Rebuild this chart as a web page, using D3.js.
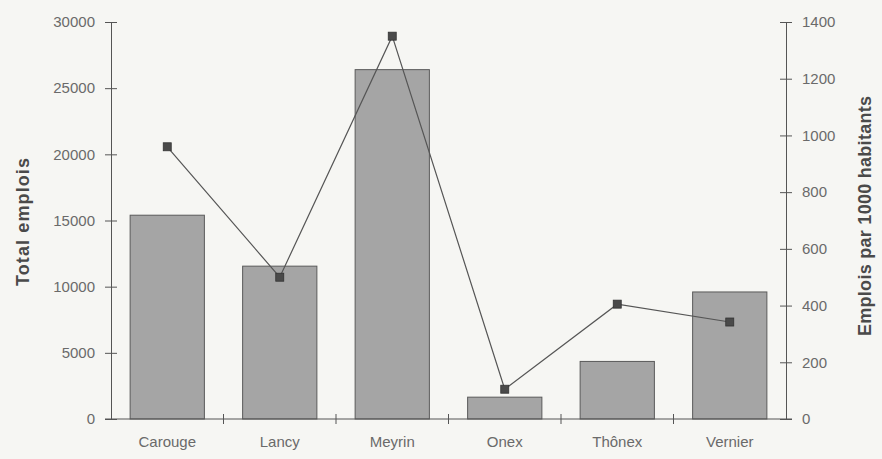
<!DOCTYPE html>
<html>
<head>
<meta charset="utf-8">
<script src="https://cdn.jsdelivr.net/npm/d3@7"></script>
<style>
  body { margin: 0; background: #f6f6f3; }
  svg { display: block; }
</style>
</head>
<body>
<div id="chart"></div>
<script>
// data
var communes = ["Carouge", "Lancy", "Meyrin", "Onex", "Thônex", "Vernier"];
var totalEmplois = [15400, 11550, 26400, 1650, 4350, 9600];
var emploisPar1000 = [960, 500, 1350, 105, 405, 342];
var leftTicks = [0, 5000, 10000, 15000, 20000, 25000, 30000];
var rightTicks = [0, 200, 400, 600, 800, 1000, 1200, 1400];

var W = 882, H = 459;
var margin = {top: 22, right: 96, bottom: 40, left: 111};
var width = W - margin.left - margin.right,
    height = H - margin.top - margin.bottom;

var svg = d3.select("#chart").append("svg")
    .attr("width", W).attr("height", H);

svg.append("rect").attr("width", W).attr("height", H).attr("fill", "#f6f6f3");

var g = svg.append("g")
    .attr("transform", "translate(" + margin.left + "," + margin.top + ")");

var x = d3.scaleBand().domain(communes).range([0, width]).paddingInner(0.34).paddingOuter(0.17);
var xTicks = d3.scaleLinear().domain([0, communes.length]).range([0, width]);
var yL = d3.scaleLinear().domain([0, 30000]).range([height, 0]);
var yR = d3.scaleLinear().domain([0, 1400]).range([height, 0]);

var axisColor = "#555";
var textColor = "#6a6a6a";
var tickFont = "'Liberation Sans Narrow', 'Liberation Sans', Arial, sans-serif";
var titleFont = "'Liberation Sans Narrow', 'Liberation Sans', Arial, sans-serif";

// bars
g.selectAll("rect.bar")
  .data(totalEmplois)
  .enter().append("rect")
    .attr("class", "bar")
    .attr("x", function(d, i) { return x(communes[i]); })
    .attr("y", function(d) { return yL(d); })
    .attr("width", x.bandwidth())
    .attr("height", function(d) { return height - yL(d); })
    .attr("fill", "#a5a5a5")
    .attr("stroke", "#5a5a5a")
    .attr("stroke-width", 1);

// line
var line = d3.line()
    .x(function(d, i) { return x(communes[i]) + x.bandwidth() / 2; })
    .y(function(d) { return yR(d); });

g.append("path")
    .datum(emploisPar1000)
    .attr("fill", "none")
    .attr("stroke", "#555")
    .attr("stroke-width", 1.2)
    .attr("d", line);

g.selectAll("rect.marker")
  .data(emploisPar1000)
  .enter().append("rect")
    .attr("class", "marker")
    .attr("x", function(d, i) { return x(communes[i]) + x.bandwidth() / 2 - 4; })
    .attr("y", function(d) { return yR(d) - 4; })
    .attr("width", 8)
    .attr("height", 8)
    .attr("fill", "#4a4a4a")
    .attr("stroke", "#333")
    .attr("stroke-width", 0.8);

// left axis
var leftAxis = g.append("g")
    .call(d3.axisLeft(yL).tickValues(leftTicks).tickSize(0).tickPadding(16).tickFormat(d3.format("d")));
leftAxis.select(".domain").attr("stroke", axisColor);
leftAxis.selectAll(".tick line").attr("x1", -6).attr("x2", 6).attr("stroke", axisColor);
leftAxis.selectAll("text").attr("fill", textColor).style("font-family", tickFont).style("font-size", "15px");

// right axis
var rightAxis = g.append("g")
    .attr("transform", "translate(" + width + ",0)")
    .call(d3.axisRight(yR).tickValues(rightTicks).tickSize(0).tickPadding(16).tickFormat(d3.format("d")));
rightAxis.select(".domain").attr("stroke", axisColor);
rightAxis.selectAll(".tick line").attr("x1", -6).attr("x2", 6).attr("stroke", axisColor);
rightAxis.selectAll("text").attr("fill", textColor).style("font-family", tickFont).style("font-size", "15px");

// x axis
var xAxis = g.append("g")
    .attr("transform", "translate(0," + height + ")");
xAxis.append("line")
    .attr("x1", -6).attr("x2", width + 6)
    .attr("stroke", axisColor);
xAxis.selectAll("line.tick")
  .data(d3.range(1, communes.length))
  .enter().append("line")
    .attr("class", "tick")
    .attr("x1", function(d) { return xTicks(d); })
    .attr("x2", function(d) { return xTicks(d); })
    .attr("y1", -5).attr("y2", 5)
    .attr("stroke", axisColor);
xAxis.selectAll("text")
  .data(communes)
  .enter().append("text")
    .attr("x", function(d) { return x(d) + x.bandwidth() / 2; })
    .attr("y", 28)
    .attr("text-anchor", "middle")
    .attr("fill", textColor)
    .style("font-family", tickFont)
    .style("font-size", "15px")
    .text(function(d) { return d; });

// axis titles
svg.append("text")
    .attr("transform", "translate(29,222) rotate(-90)")
    .attr("text-anchor", "middle")
    .attr("fill", "#4a4a4a")
    .attr("textLength", 128)
    .attr("lengthAdjust", "spacing")
    .style("font-family", titleFont)
    .style("font-weight", "bold")
    .style("font-size", "18px")
    .text("Total emplois");

svg.append("text")
    .attr("transform", "translate(871,216) rotate(-90)")
    .attr("text-anchor", "middle")
    .attr("fill", "#4a4a4a")
    .attr("textLength", 240)
    .attr("lengthAdjust", "spacing")
    .style("font-family", titleFont)
    .style("font-weight", "bold")
    .style("font-size", "18px")
    .text("Emplois par 1000 habitants");
</script>
</body>
</html>
